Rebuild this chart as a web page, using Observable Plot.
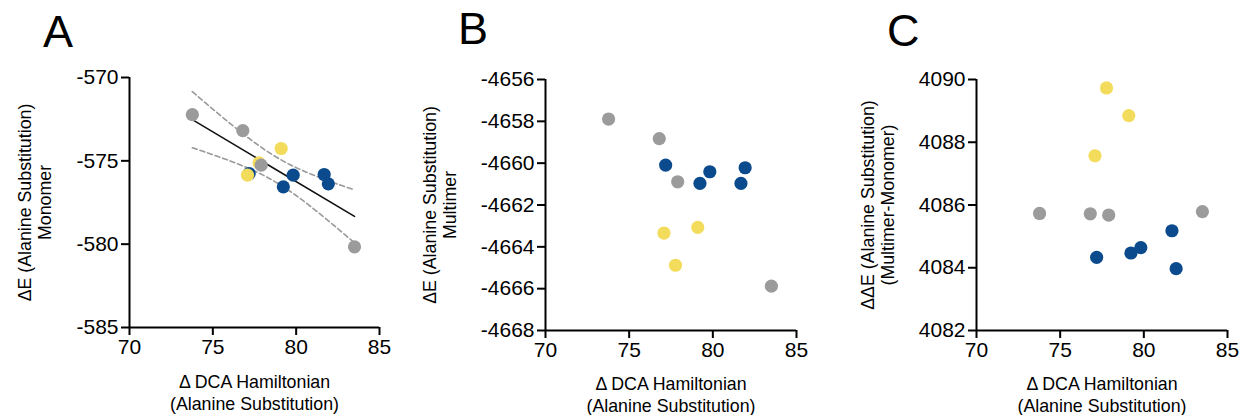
<!DOCTYPE html>
<html>
<head>
<meta charset="utf-8">
<script src="https://cdn.jsdelivr.net/npm/d3@7"></script>
<script src="https://cdn.jsdelivr.net/npm/@observablehq/plot@0.6"></script>
<style>
html, body { margin: 0; padding: 0; background: #fff; }
#root { position: relative; width: 1243px; height: 415px; overflow: hidden;
  font-family: "Liberation Sans", Arial, Helvetica, sans-serif; color: #000; }
.panel { position: absolute; top: 0; height: 415px; }
.panel svg { position: absolute; left: 0; top: 0; overflow: visible; }
.letter { position: absolute; font-size: 45px; line-height: 45px; z-index: 2; }
</style>
</head>
<body>
<div id="root"></div>
<script>
// ---- data ----
const group = ["set C", "set C", "set C", "set C", "set C", "set B", "set B", "set B", "set A", "set A", "set A", "set A"];
const dcaHamiltonian = [77.18, 79.23, 79.82, 81.68, 81.93, 77.08, 77.77, 79.10, 73.77, 76.80, 77.90, 83.50];
const monomerDE = [-575.76, -576.56, -575.86, -575.82, -576.38, -575.86, -575.12, -574.26, -572.23, -573.19, -575.26, -580.16];
const multimerDE = [-4660.09, -4660.97, -4660.41, -4660.97, -4660.22, -4663.34, -4664.88, -4663.07, -4657.89, -4658.83, -4660.89, -4665.88];
const multimerMinusMonomerDE = [4084.33, 4084.47, 4084.64, 4085.18, 4083.97, 4087.57, 4089.73, 4088.85, 4085.73, 4085.72, 4085.68, 4085.79];

const xDomain = [70, 85];
const xTicks = [70, 75, 80, 85];
const yDomainA = [-585, -570];
const yTicksA = [-585, -580, -575, -570];
const yDomainB = [-4668, -4656];
const yTicksB = [-4668, -4666, -4664, -4662, -4660, -4658, -4656];
const yDomainC = [4082, 4090];
const yTicksC = [4082, 4084, 4086, 4088, 4090];

const panelLetters = ["A", "B", "C"];
const xLabel = "Δ DCA Hamiltonian\n(Alanine Substitution)";
const yLabels = [
  "ΔE (Alanine Substitution)\nMonomer",
  "ΔE (Alanine Substitution)\nMultimer",
  "ΔΔE (Alanine Substitution)\n(Multimer-Monomer)"
];
const groupDomain = ["set A", "set B", "set C"];
const groupColors = ["#9b9b9b", "#f3dc5c", "#0b4a8c"];

// Student t quantile (0.975) for n - 2 = 10 degrees of freedom
const t975 = 2.228;

function rowsFor(yValues) {
  return dcaHamiltonian.map((x, i) => ({x, y: yValues[i], group: group[i]}));
}

// 95% confidence band of the least-squares fit (as drawn in panel A)
function confidenceBounds(rows) {
  const n = rows.length;
  const mx = d3.mean(rows, d => d.x), my = d3.mean(rows, d => d.y);
  const sxx = d3.sum(rows, d => (d.x - mx) ** 2);
  const sxy = d3.sum(rows, d => (d.x - mx) * (d.y - my));
  const b = sxy / sxx, a = my - b * mx;
  const s = Math.sqrt(d3.sum(rows, d => (d.y - a - b * d.x) ** 2) / (n - 2));
  const [x0, x1] = d3.extent(rows, d => d.x);
  const out = [];
  for (let k = 0; k <= 60; ++k) {
    const x = x0 + (x1 - x0) * k / 60;
    const h = t975 * s * Math.sqrt(1 / n + (x - mx) ** 2 / sxx);
    const f = a + b * x;
    out.push({x, y: f + h, bound: "upper"}, {x, y: f - h, bound: "lower"});
  }
  return out;
}

const panels = [
  {left: 0, width: 414, mL: 129, mR: 35, mT: 77, mB: 88, values: monomerDE, yDomain: yDomainA, yTicks: yTicksA,
   yLabelDx: -112, xLabelDy: 45, letterLeft: 43, letterTop: 9, regression: true},
  {left: 414, width: 414, mL: 131, mR: 32, mT: 79, mB: 85, values: multimerDE, yDomain: yDomainB, yTicks: yTicksB,
   yLabelDx: -123, xLabelDy: 44, letterLeft: 44, letterTop: 6, regression: false},
  {left: 828, width: 415, mL: 148, mR: 16, mT: 79, mB: 85, values: multimerMinusMonomerDE, yDomain: yDomainC, yTicks: yTicksC,
   yLabelDx: -116, xLabelDy: 44, letterLeft: 59, letterTop: 8, regression: false}
];

const root = document.getElementById("root");
const fontFamily = '"Liberation Sans", Arial, Helvetica, sans-serif';

panels.forEach((p, i) => {
  const rows = rowsFor(p.values);
  const marks = [];
  if (p.regression) {
    marks.push(Plot.line(confidenceBounds(rows), {x: "x", y: "y", z: "bound", stroke: "#9a9a9a", strokeWidth: 1.6, strokeDasharray: "5,3"}));
    marks.push(Plot.linearRegressionY(rows, {x: "x", y: "y", ci: 0, stroke: "#111", strokeWidth: 1.6}));
  }
  marks.push(
    Plot.dot(rows, {x: "x", y: "y", fill: "group", r: 6.6}),
    Plot.ruleX([xDomain[0]], {stroke: "#000", strokeWidth: 2}),
    Plot.ruleY([p.yDomain[0]], {stroke: "#000", strokeWidth: 2}),
    Plot.axisX({ticks: xTicks, tickSize: 8, tickPadding: 4, strokeWidth: 2, fontSize: 21, label: null, tickFormat: d => String(d)}),
    Plot.axisY({ticks: p.yTicks, tickSize: 8, tickPadding: 3, strokeWidth: 2, fontSize: 21, label: null, tickFormat: d => String(d)}),
    Plot.text([xLabel], {text: d => d, frameAnchor: "bottom", textAnchor: "middle", lineAnchor: "top", dy: p.xLabelDy, fontSize: 17.8, lineHeight: 1.24}),
    Plot.text([yLabels[i]], {text: d => d, frameAnchor: "left", textAnchor: "middle", rotate: -90, lineAnchor: "top", dx: p.yLabelDx, fontSize: 17.8, lineHeight: 1.1})
  );
  const chart = Plot.plot({
    width: p.width, height: 415,
    marginLeft: p.mL, marginRight: p.mR, marginTop: p.mT, marginBottom: p.mB,
    x: {domain: xDomain},
    y: {domain: p.yDomain},
    color: {type: "ordinal", domain: groupDomain, range: groupColors},
    style: {background: "transparent", color: "#000", fontFamily},
    marks
  });
  const div = document.createElement("div");
  div.className = "panel";
  div.style.left = p.left + "px";
  div.style.width = p.width + "px";
  const letter = document.createElement("div");
  letter.className = "letter";
  letter.textContent = panelLetters[i];
  letter.style.left = p.letterLeft + "px";
  letter.style.top = p.letterTop + "px";
  div.appendChild(chart);
  div.appendChild(letter);
  root.appendChild(div);
});
</script>
</body>
</html>
